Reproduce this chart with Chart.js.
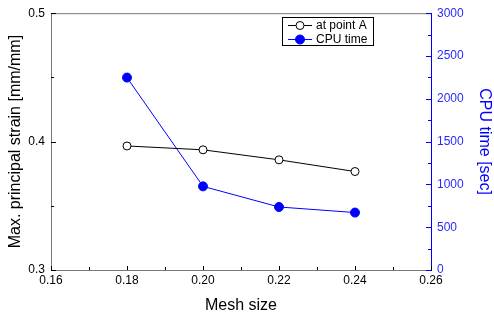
<!DOCTYPE html>
<html>
<head>
<meta charset="utf-8">
<script src="https://cdn.jsdelivr.net/npm/chart.js@4.4.1/dist/chart.umd.min.js"></script>
<style>
  html, body { margin: 0; padding: 0; background: #fff; }
  #wrap { width: 494px; height: 320px; }
</style>
</head>
<body>
<div id="wrap"><canvas id="chart"></canvas></div>
<script>
// values
const meshSize = [0.18, 0.20, 0.22, 0.24];
const strainAtA = [0.3966, 0.3936, 0.3858, 0.3767];
const cpuTime = [2248, 977, 736, 671];

const xTicks = [0.16, 0.18, 0.20, 0.22, 0.24, 0.26];
const strainTicks = [0.3, 0.4, 0.5];
const cpuTicks = [0, 500, 1000, 1500, 2000, 2500, 3000];

const FONT = 'Liberation Sans, Arial, sans-serif';
const BLUE = '#0000ff';
const BLUE_TEXT = '#2a2aff';

// ticks drawn inward, with minor ticks halfway, plus top frame and legend box
const framePlugin = {
  id: 'frame',
  afterDraw(chart) {
    const { ctx, chartArea: a, scales } = chart;
    const x = scales.x, yl = scales.y, yr = scales.y1;
    ctx.save();
    ctx.lineWidth = 1;

    // top frame line
    ctx.strokeStyle = '#777';
    ctx.beginPath();
    ctx.moveTo(a.left, a.top + 0.5);
    ctx.lineTo(a.right, a.top + 0.5);
    ctx.stroke();

    const tick = (x1, y1, x2, y2) => {
      ctx.beginPath();
      ctx.moveTo(x1, y1);
      ctx.lineTo(x2, y2);
      ctx.stroke();
    };

    ctx.strokeStyle = '#000';
    xTicks.forEach((v, i) => {
      const px = Math.round(x.getPixelForValue(v)) + 0.5;
      tick(px, a.bottom, px, a.bottom - 4);
      if (i < xTicks.length - 1) {
        const mx = Math.round(x.getPixelForValue((v + xTicks[i + 1]) / 2)) + 0.5;
        tick(mx, a.bottom, mx, a.bottom - 3);
      }
    });
    strainTicks.forEach((v, i) => {
      const py = Math.round(yl.getPixelForValue(v)) + 0.5;
      tick(a.left, py, a.left + 5, py);
      if (i < strainTicks.length - 1) {
        const my = Math.round(yl.getPixelForValue((v + strainTicks[i + 1]) / 2)) + 0.5;
        tick(a.left, my, a.left + 3, my);
      }
    });

    ctx.strokeStyle = BLUE;
    cpuTicks.forEach((v, i) => {
      const py = Math.round(yr.getPixelForValue(v)) + 0.5;
      tick(a.right, py, a.right - 5, py);
      if (i < cpuTicks.length - 1) {
        const my = Math.round(yr.getPixelForValue((v + cpuTicks[i + 1]) / 2)) + 0.5;
        tick(a.right, my, a.right - 3, my);
      }
    });

    // legend
    const bx = 282.5, by = 17.5, bw = 91, bh = 28;
    ctx.fillStyle = '#fff';
    ctx.fillRect(bx, by, bw, bh);
    ctx.strokeStyle = '#000';
    ctx.strokeRect(bx, by, bw, bh);
    ctx.font = '12px ' + FONT;
    ctx.textBaseline = 'middle';
    chart.data.datasets.forEach((ds, i) => {
      const ry = 25 + i * 14 + 0.5;
      ctx.strokeStyle = ds.borderColor;
      tick(288, ry, 312, ry);
      ctx.beginPath();
      ctx.arc(300, ry, ds.pointRadius, 0, Math.PI * 2);
      ctx.fillStyle = ds.pointBackgroundColor;
      ctx.fill();
      ctx.strokeStyle = ds.pointBorderColor;
      ctx.stroke();
      ctx.fillStyle = '#000';
      ctx.fillText(ds.label, 316, ry);
    });
    ctx.restore();
  }
};

new Chart(document.getElementById('chart'), {
  type: 'line',
  data: {
    datasets: [
      {
        label: 'at point A',
        data: meshSize.map((m, i) => ({ x: m, y: strainAtA[i] })),
        yAxisID: 'y',
        borderColor: '#000',
        borderWidth: 1,
        pointRadius: 4,
        pointBackgroundColor: '#fff',
        pointBorderColor: '#000',
        pointBorderWidth: 1,
        tension: 0,
      },
      {
        label: 'CPU time',
        data: meshSize.map((m, i) => ({ x: m, y: cpuTime[i] })),
        yAxisID: 'y1',
        borderColor: BLUE,
        borderWidth: 1,
        pointRadius: 4.5,
        pointBackgroundColor: BLUE,
        pointBorderColor: BLUE,
        pointBorderWidth: 1,
        tension: 0,
      },
    ],
  },
  options: {
    responsive: true,
    maintainAspectRatio: false,
    devicePixelRatio: 1,
    animation: false,
    layout: { padding: { top: 12, left: 0, right: 0, bottom: 0 } },
    plugins: { legend: { display: false }, tooltip: { enabled: false } },
    scales: {
      x: {
        type: 'linear',
        min: 0.16,
        max: 0.26,
        afterBuildTicks: (s) => { s.ticks = xTicks.map((v) => ({ value: v })); },
        afterFit: (s) => { s.height = 50; },
        ticks: {
          callback: (v) => v.toFixed(2),
          font: { family: FONT, size: 12 },
          color: '#000',
          padding: 3,
          maxRotation: 0,
        },
        grid: { drawOnChartArea: false, drawTicks: false },
        border: { color: '#777', width: 1 },
        title: {
          display: true,
          text: 'Mesh size',
          font: { family: FONT, size: 16 },
          color: '#000',
          padding: { top: 0, bottom: 5 },
        },
      },
      y: {
        position: 'left',
        min: 0.3,
        max: 0.5,
        afterBuildTicks: (s) => { s.ticks = strainTicks.map((v) => ({ value: v })); },
        afterFit: (s) => { s.width = 51; },
        ticks: {
          callback: (v) => v.toFixed(1),
          font: { family: FONT, size: 12 },
          color: '#000',
          padding: 6,
        },
        grid: { drawOnChartArea: false, drawTicks: false },
        border: { color: '#777', width: 1 },
        title: {
          display: true,
          text: 'Max. principal strain [mm/mm]',
          font: { family: FONT, size: 16 },
          color: '#000',
          padding: { top: 6, bottom: 0 },
        },
      },
      y1: {
        position: 'right',
        min: 0,
        max: 3000,
        afterBuildTicks: (s) => { s.ticks = cpuTicks.map((v) => ({ value: v })); },
        afterFit: (s) => { s.width = 63; },
        ticks: {
          callback: (v) => String(v),
          font: { family: FONT, size: 12 },
          color: BLUE_TEXT,
          padding: 6,
        },
        grid: { drawOnChartArea: false, drawTicks: false },
        border: { color: BLUE, width: 1 },
        title: {
          display: true,
          text: 'CPU time [sec]',
          font: { family: FONT, size: 16 },
          color: BLUE,
          padding: { top: 0, bottom: 0 },
        },
      },
    },
  },
  plugins: [framePlugin],
});
</script>
</body>
</html>
